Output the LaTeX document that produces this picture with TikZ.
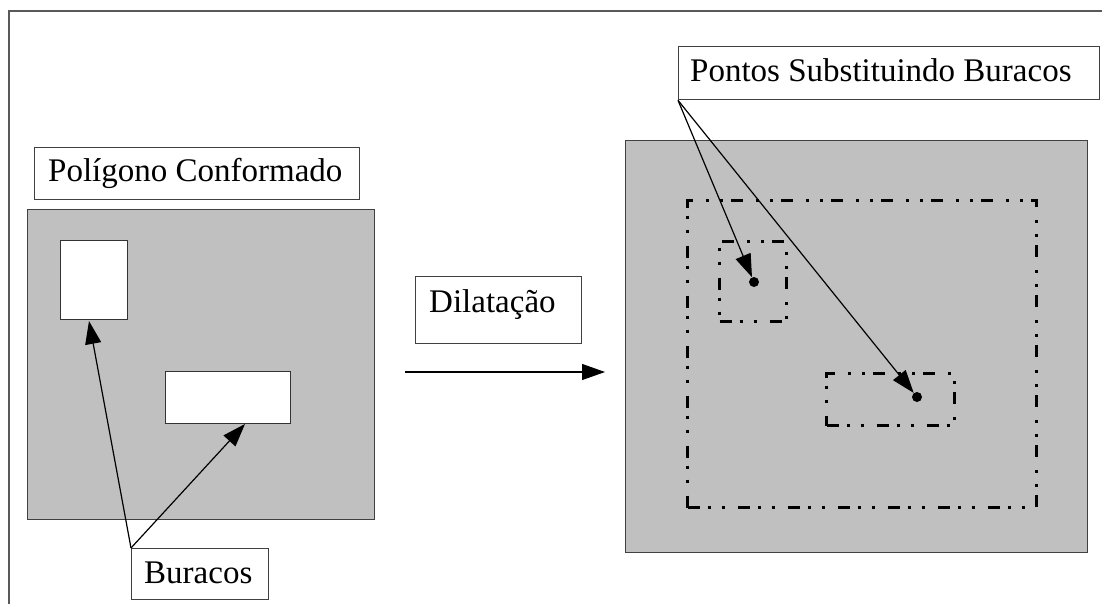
\documentclass[tikz,border=0pt]{standalone}
\usepackage{fontspec}
\setmainfont{Liberation Serif}
\usetikzlibrary{arrows.meta}
\begin{document}
\begin{tikzpicture}[x=1pt,y=-1pt,
  graybox/.style={draw=black!75, line width=1.3pt, fill={rgb,255:red,192;green,192;blue,192}, inner sep=0pt, anchor=north west},
  hole/.style={draw=black!80, line width=1.3pt, fill=white, inner sep=0pt, anchor=north west},
  labelbox/.style={draw=black!75, line width=1.3pt, fill=white, inner sep=0pt, anchor=north west},
  lbl/.style={anchor=base west, inner sep=0pt, font=\fontsize{33}{38}\selectfont},
  dashdot/.style={draw=black, line width=3pt, inner sep=0pt, anchor=north west,
    dash pattern=on 12pt off 8pt on 3pt off 11pt on 3pt off 13pt},
  pt/.style={circle, fill=black, inner sep=0pt, minimum size=10pt},
  arr/.style={draw=black, line width=1.2pt, -{Triangle[length=23pt,width=16pt]}}
]
\useasboundingbox (0,0) rectangle (1102,604);
% frame
\draw[draw=black!65, line width=1.3pt] (9,604) -- (9,11) -- (1102,11);

% left side
\node[labelbox, minimum width=325pt, minimum height=52pt] (polybox) at (34,147) {};
\node[lbl] (polytxt) at (48,182) {Polígono Conformado};
\node[graybox, minimum width=347pt, minimum height=310pt] (poly) at (27,209) {};
\node[hole, minimum width=67pt, minimum height=79pt] (hole1) at (60,240) {};
\node[hole, minimum width=125pt, minimum height=52pt] (hole2) at (165,371) {};
\node[labelbox, minimum width=137pt, minimum height=51pt] (buracos) at (131,548) {};
\node[lbl] (buracostxt) at (144,583) {Buracos};
\coordinate (t1) at (89,321);
\coordinate (t2) at (245,424);
\draw[arr] (buracos.north west) -- (t1);
\draw[arr] (buracos.north west) -- (t2);

% middle
\node[labelbox, minimum width=166pt, minimum height=67pt] (dilbox) at (415,276) {};
\node[lbl] (diltxt) at (429,312) {Dilatação};
\coordinate (a0) at (405,372);
\coordinate (a1) at (605,372);
\draw[arr] (a0) -- (a1);

% right side
\node[graybox, minimum width=462pt, minimum height=412pt] (poly2) at (625,140) {};
\node[dashdot, minimum width=349pt, minimum height=307pt] (big) at (686,199) {};
\node[dashdot, minimum width=67pt, minimum height=80pt] (small1) at (718,240) {};
\node[dashdot, minimum width=128pt, minimum height=52pt] (small2) at (825,372) {};
\node[pt] (dot1) at (754,282) {};
\node[pt] (dot2) at (917,397) {};
\node[labelbox, minimum width=421pt, minimum height=53pt] (pontos) at (678,46) {};
\node[lbl] (pontostxt) at (690,82) {Pontos Substituindo Buracos};
\draw[arr] (pontos.south west) -- (dot1);
\draw[arr] (pontos.south west) -- (dot2);
\end{tikzpicture}
\end{document}
